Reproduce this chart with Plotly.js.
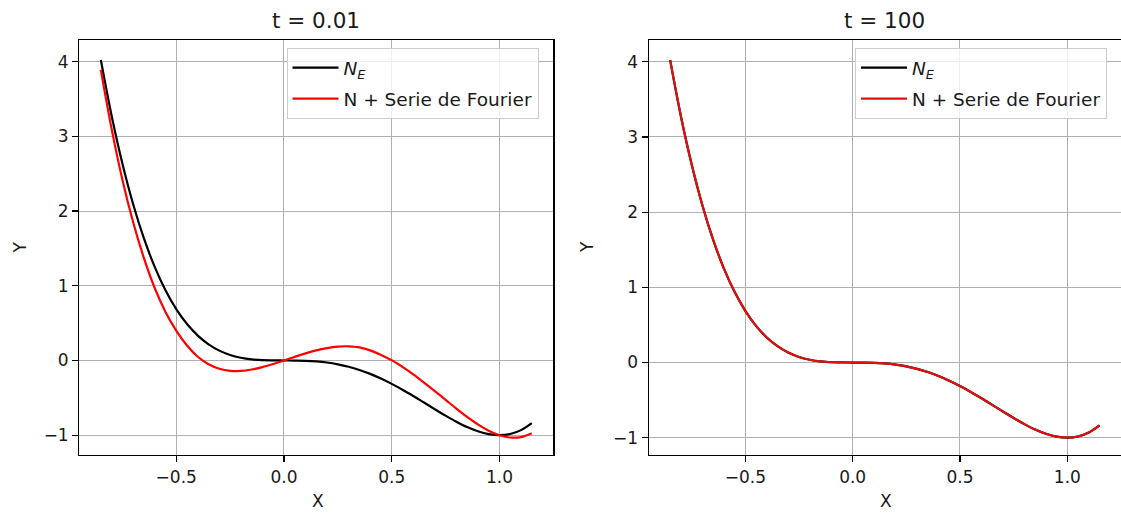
<!DOCTYPE html>
<html><head><meta charset="utf-8">
<script src="https://cdn.plot.ly/plotly-3.0.1.min.js"></script>
<style>html,body{margin:0;padding:0;background:#fff;overflow:hidden}</style>
</head><body><div id="chart" style="width:1121px;height:513px"></div>
<script>
// x positions along the curves
const xValues = [-0.85,-0.80,-0.75,-0.70,-0.65,-0.60,-0.55,-0.50,-0.45,-0.40,-0.35,-0.30,-0.25,-0.20,-0.15,-0.10,-0.05,0.00,
  0.05,0.10,0.15,0.20,0.25,0.30,0.35,0.40,0.45,0.50,0.55,0.60,0.65,0.70,0.75,0.80,0.85,0.90,0.95,1.00,1.05,1.10,1.15];
// N_E curve (same in both panels)
const neValues = [4.022,3.277,2.637,2.092,1.634,1.253,0.940,0.688,0.488,0.333,0.217,0.132,0.074,0.037,0.015,0.004,0.001,0.000,
  -0.001,-0.004,-0.012,-0.027,-0.051,-0.084,-0.127,-0.179,-0.242,-0.313,-0.391,-0.475,-0.563,-0.652,-0.738,-0.819,-0.891,-0.948,-0.986,-1.000,-0.984,-0.932,-0.837];
// N + Serie de Fourier, t = 0.01
const fourierT001 = [3.89,3.10,2.42,1.85,1.37,0.97,0.65,0.40,0.20,0.05,-0.05,-0.11,-0.138,-0.140,-0.121,-0.088,-0.046,0.000,
  0.048,0.095,0.135,0.165,0.185,0.190,0.175,0.135,0.075,0.005,-0.085,-0.185,-0.295,-0.409,-0.526,-0.643,-0.754,-0.855,-0.939,-1.000,-1.031,-1.025,-0.973];
// N + Serie de Fourier, t = 100
const fourierT100 = [4.022,3.277,2.637,2.092,1.634,1.253,0.940,0.688,0.488,0.333,0.217,0.132,0.074,0.037,0.015,0.004,0.001,0.000,
  -0.001,-0.004,-0.012,-0.027,-0.051,-0.084,-0.127,-0.179,-0.242,-0.313,-0.391,-0.475,-0.563,-0.652,-0.738,-0.819,-0.891,-0.948,-0.986,-1.000,-0.984,-0.932,-0.837];

const xTickVals = [-0.5,0,0.5,1.0];
const xTickText = ['\u22120.5','0.0','0.5','1.0'];
const yTickVals = [-1,0,1,2,3,4];
const yTickText = ['\u22121','0','1','2','3','4'];
const titles = ['t = 0.01','t = 100'];
const names = ['<i>N<sub>E</sub></i>','N + Serie de Fourier'];

const W = 1121, H = 513;
const px = v => v / W, py = v => 1 - v / H;
const FONT = 'DejaVu Sans, Liberation Sans, sans-serif';
const TXT = '#1a1a1a';

function axisX(domain, anchor){
  return {domain, anchor, range:[-0.95,1.25], tickvals:xTickVals, ticktext:xTickText,
    showgrid:true, gridcolor:'#b0b0b0', gridwidth:1, zeroline:false,
    showline:true, mirror:true, linecolor:'#000', linewidth:1.2,
    ticks:'outside', ticklen:6, tickwidth:1.2, tickcolor:'#000',
    tickfont:{size:17, color:TXT}, fixedrange:true};
}
function axisY(domain, anchor, range){
  return {domain, anchor, range, tickvals:yTickVals, ticktext:yTickText,
    showgrid:true, gridcolor:'#b0b0b0', gridwidth:1, zeroline:false,
    showline:true, mirror:true, linecolor:'#000', linewidth:1.2,
    ticks:'outside', ticklen:6, tickwidth:1.2, tickcolor:'#000',
    tickfont:{size:17, color:TXT}, fixedrange:true};
}

const lineW = 2.2;
const traces = [
  {x:xValues, y:neValues, xaxis:'x', yaxis:'y', name:names[0], legend:'legend', legendgroup:'a',
   mode:'lines', line:{color:'#000000', width:lineW, shape:'spline'}},
  {x:xValues, y:fourierT001, xaxis:'x', yaxis:'y', name:names[1], legend:'legend', legendgroup:'b',
   mode:'lines', line:{color:'#ff0000', width:lineW, shape:'spline'}},
  {x:xValues, y:neValues, xaxis:'x2', yaxis:'y2', name:names[0], legend:'legend2', legendgroup:'c',
   mode:'lines', line:{color:'#000000', width:lineW, shape:'spline'}},
  {x:xValues, y:fourierT100, xaxis:'x2', yaxis:'y2', name:names[1], legend:'legend2', legendgroup:'d',
   mode:'lines', line:{color:'#e01010', width:lineW, shape:'spline'}}
];

const yDom = [py(455), py(40)];
const legendBase = {xanchor:'left', yanchor:'top', bgcolor:'rgba(255,255,255,0.8)',
  bordercolor:'#cccccc', borderwidth:1, font:{size:18.5, color:TXT, family:FONT},
  traceorder:'grouped', tracegroupgap:4, itemwidth:46};

const layout = {
  width:W, height:H, margin:{l:0,r:0,t:0,b:0}, paper_bgcolor:'#fff', plot_bgcolor:'#fff',
  font:{family:FONT, color:TXT},
  showlegend:true,
  xaxis:axisX([px(79.3), px(553.3)], 'y'),
  yaxis:axisY(yDom, 'x', [-1.265, 4.29]),
  xaxis2:axisX([px(648.7), 1], 'y2'),
  yaxis2:axisY(yDom, 'x2', [-1.23, 4.29]),
  legend:Object.assign({x:px(286.5), y:py(48)}, legendBase),
  legend2:Object.assign({x:px(855), y:py(48)}, legendBase),
  annotations:[
    {text:titles[0], x:px(316.3), y:py(20.5), xref:'paper', yref:'paper', showarrow:false, font:{size:21.5, color:TXT}, xanchor:'center', yanchor:'middle'},
    {text:titles[1], x:px(884.8), y:py(20.5), xref:'paper', yref:'paper', showarrow:false, font:{size:21.5, color:TXT}, xanchor:'center', yanchor:'middle'},
    {text:'X', x:px(318), y:py(501), xref:'paper', yref:'paper', showarrow:false, font:{size:17, color:TXT}, xanchor:'center', yanchor:'middle'},
    {text:'X', x:px(886), y:py(501), xref:'paper', yref:'paper', showarrow:false, font:{size:17, color:TXT}, xanchor:'center', yanchor:'middle'},
    {text:'Y', x:px(19.5), y:py(247), xref:'paper', yref:'paper', showarrow:false, font:{size:17, color:TXT}, textangle:-90, xanchor:'center', yanchor:'middle'},
    {text:'Y', x:px(587), y:py(247), xref:'paper', yref:'paper', showarrow:false, font:{size:17, color:TXT}, textangle:-90, xanchor:'center', yanchor:'middle'}
  ]
};

Plotly.newPlot('chart', traces, layout, {displayModeBar:false, staticPlot:true});
</script>
</body></html>
